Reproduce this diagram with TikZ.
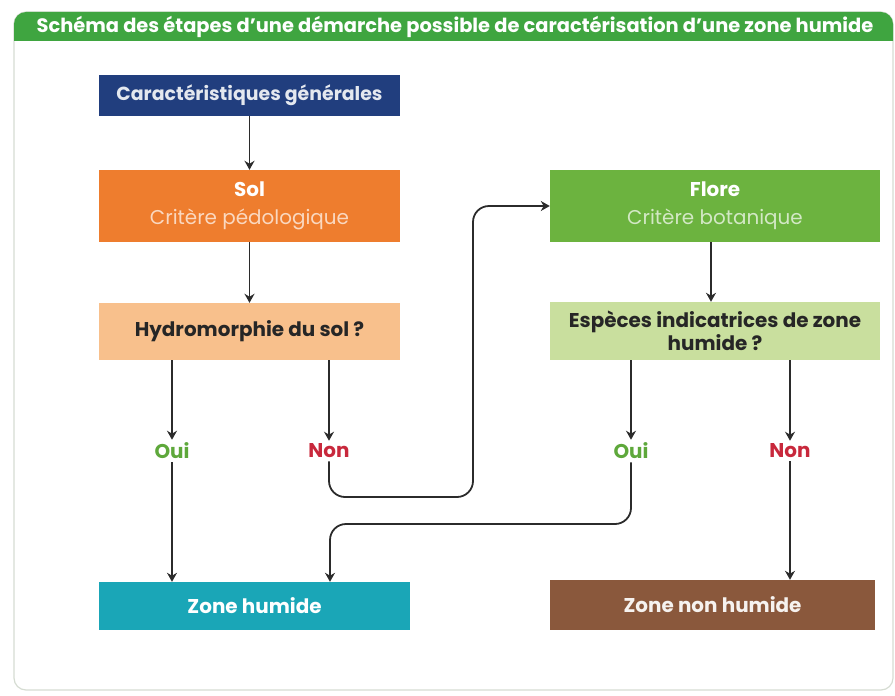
\documentclass[tikz,border=0pt]{standalone}
\usepackage{fontspec}
\setmainfont{Poppins}
\usetikzlibrary{positioning,arrows.meta,calc}
\definecolor{headGreen}{HTML}{3FA540}
\definecolor{frameGray}{HTML}{D5DCD2}
\definecolor{caracBlue}{HTML}{213E7E}
\definecolor{solOrange}{HTML}{EE7D2E}
\definecolor{hydroPeach}{HTML}{F8C08C}
\definecolor{floreGreen}{HTML}{6CB33F}
\definecolor{especesGreen}{HTML}{C9DF9E}
\definecolor{zoneTeal}{HTML}{1AA6B7}
\definecolor{zoneBrown}{HTML}{8A583C}
\definecolor{ouiGreen}{HTML}{5EA83B}
\definecolor{nonRed}{HTML}{C8283C}
\definecolor{lineInk}{HTML}{2B2B2B}

\begin{document}
\begin{tikzpicture}[x=1bp, y=-1bp, >={Stealth[length=9bp, width=10bp]},
      box/.style={inner sep=0pt, align=center, font=\fontsize{20}{23}\selectfont\bfseries},
      wide/.style={box, minimum width=301bp},
      flow/.style={->, line width=1.8pt, draw=lineInk},
      reply/.style={font=\fontsize{20}{23}\selectfont\bfseries, inner sep=3bp}]
    \useasboundingbox (0,0) rectangle (895,696);
    % ---- frame and header
    \draw[frameGray, line width=1.2pt, rounded corners=12bp] (14,12) rectangle (893,690);
    \fill[headGreen, rounded corners=12bp] (14,41) -- (14,12) -- (893,12) [sharp corners] -- (893,41) -- cycle;
    \node[text=white, font=\fontsize{19.5}{22}\selectfont\bfseries] (title) at (455,27)
      {Schéma des étapes d'une démarche possible de caractérisation d'une zone humide};
    % ---- soil column
    \node[wide, fill=caracBlue, minimum height=41bp, text=caracBlue!12,
      font=\fontsize{19}{22}\selectfont\bfseries] (carac) at (249.5,95.5)
      {Caractéristiques générales};
    \node[wide, fill=solOrange, minimum height=72bp, text=white] (sol) at (249.5,206)
      {Sol\\[5bp]{\mdseries\color{solOrange!30}Critère pédologique}};
    \node[wide, fill=hydroPeach, minimum height=57bp, text=black!85] (hydro) at (249.5,331.5)
      {Hydromorphie du sol ?};
    % ---- flora column
    \node[box, fill=floreGreen, minimum width=330bp, minimum height=72bp, text=white] (flore) at (715,206)
      {Flore\\[5bp]{\mdseries\color{floreGreen!30}Critère botanique}};
    \node[box, fill=especesGreen, minimum width=330bp, minimum height=58bp, text=black!85] (especes) at (715,331)
      {Espèces indicatrices de zone\\humide ?};
    % ---- answers
    \node[reply, text=ouiGreen] (oui1) at (172,451) {Oui};
    \node[reply, text=nonRed] (non1) at (329,451) {Non};
    \node[reply, text=ouiGreen] (oui2) at (631,451) {Oui};
    \node[reply, text=nonRed] (non2) at (790,451) {Non};
    % ---- outcomes
    \node[box, fill=zoneTeal, minimum width=311bp, minimum height=48bp, text=white] (zh) at (254.5,606)
      {Zone humide};
    \node[box, fill=zoneBrown, minimum width=325bp, minimum height=50bp, text=white!92!zoneBrown] (znh) at (712.5,605)
      {Zone non humide};
    % ---- connectors
    \coordinate (nonLow) at (329,497);
    \coordinate (nonRise) at (473,497);
    \coordinate (ouiLow) at (631,524);
    \coordinate (ouiDrop) at (330,524);
    \draw[flow] (carac) -- (sol);
    \draw[flow] (sol) -- (hydro);
    \draw[flow] (flore.south -| 711,0) -- (especes.north -| 711,0);
    \foreach \ans/\src in {oui1/hydro, non1/hydro, oui2/especes, non2/especes}
      \draw[flow] (\ans |- \src.south) -- (\ans.north);
    \draw[flow] (oui1.south) -- (oui1 |- zh.north);
    \draw[flow] (non2.south) -- (non2 |- znh.north);
    \draw[flow, rounded corners=16bp] (non1.south) -- (nonLow) -- (nonRise) -- (nonRise |- flore.west) -- (flore.west);
    \draw[flow, rounded corners=16bp] (oui2.south) -- (ouiLow) -- (ouiDrop) -- (ouiDrop |- zh.north);
  \end{tikzpicture}
\end{document}
